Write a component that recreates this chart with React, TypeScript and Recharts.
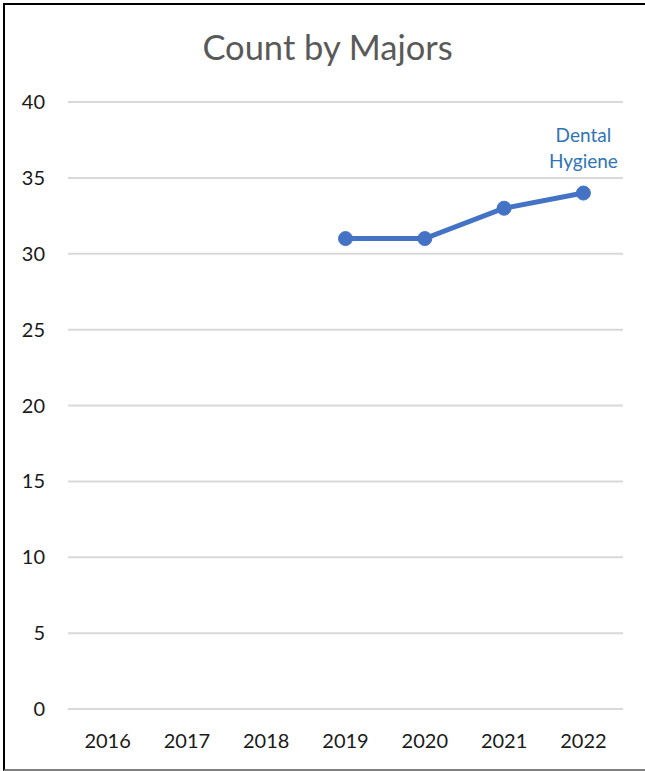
import React from 'react';
import { LineChart, Line, XAxis, YAxis, CartesianGrid, LabelList } from 'recharts';

const years = ['2016', '2017', '2018', '2019', '2020', '2021', '2022'];
const dentalHygiene: (number | null)[] = [null, null, null, 31, 31, 33, 34];
const yTicks = [0, 5, 10, 15, 20, 25, 30, 35, 40];
const seriesName = 'Dental Hygiene';

const data = years.map((year, i) => ({ year, dental: dentalHygiene[i] }));

const FONT = 'Lato, "Open Sans", sans-serif';

const SeriesLabel = (props: any) => {
  const { x, y, index } = props;
  if (index !== data.length - 1) return null;
  const [first, second] = seriesName.split(' ');
  return (
    <text x={x} textAnchor="middle" fill="#2E75B6" fontSize={19} fontFamily={FONT}>
      <tspan x={x} y={y - 51}>{first}</tspan>
      <tspan x={x} y={y - 25}>{second}</tspan>
    </text>
  );
};

export default function App() {
  return (
    <div
      style={{
        position: 'absolute',
        left: 0,
        top: 0,
        width: 645,
        height: 771,
        background: '#fff',
        fontFamily: FONT,
      }}
    >
      {/* outer frame */}
      <div
        style={{
          position: 'absolute',
          left: 3,
          top: 3,
          width: 660,
          height: 764,
          borderLeft: '2px solid #000',
          borderTop: '2px solid #000',
          borderBottom: '2px solid #7f7f7f',
        }}
      />
      <div
        style={{
          position: 'absolute',
          left: 0,
          width: 655,
          top: 27,
          textAlign: 'center',
          fontSize: 34.5,
          lineHeight: '40px',
          color: '#595959',
        }}
      >
        Count by Majors
      </div>
      <div style={{ position: 'absolute', left: 0, top: 0 }}>
        <LineChart
          width={645}
          height={771}
          data={data}
          margin={{ top: 102, right: 22, bottom: 0, left: 0 }}
        >
          <CartesianGrid vertical={false} stroke="#D9D9D9" strokeWidth={2} />
          <XAxis
            dataKey="year"
            axisLine={false}
            tickLine={false}
            tickSize={0}
            tickMargin={25}
            height={62}
            padding={{ left: 39.6, right: 39.6 }}
            tick={{ fill: '#1a1a1a', fontSize: 20, fontFamily: FONT }}
            interval={0}
          />
          <YAxis
            domain={[0, 40]}
            ticks={yTicks}
            width={68}
            axisLine={false}
            tickLine={false}
            tickSize={0}
            tickMargin={23}
            tick={{ fill: '#1a1a1a', fontSize: 20, fontFamily: FONT }}
          />
          <Line
            dataKey="dental"
            name={seriesName}
            stroke="#4472C4"
            strokeWidth={5}
            dot={{ r: 7, fill: '#4472C4', stroke: '#4472C4', strokeWidth: 1 }}
            isAnimationActive={false}
          >
            <LabelList dataKey="dental" content={<SeriesLabel />} />
          </Line>
        </LineChart>
      </div>
    </div>
  );
}
